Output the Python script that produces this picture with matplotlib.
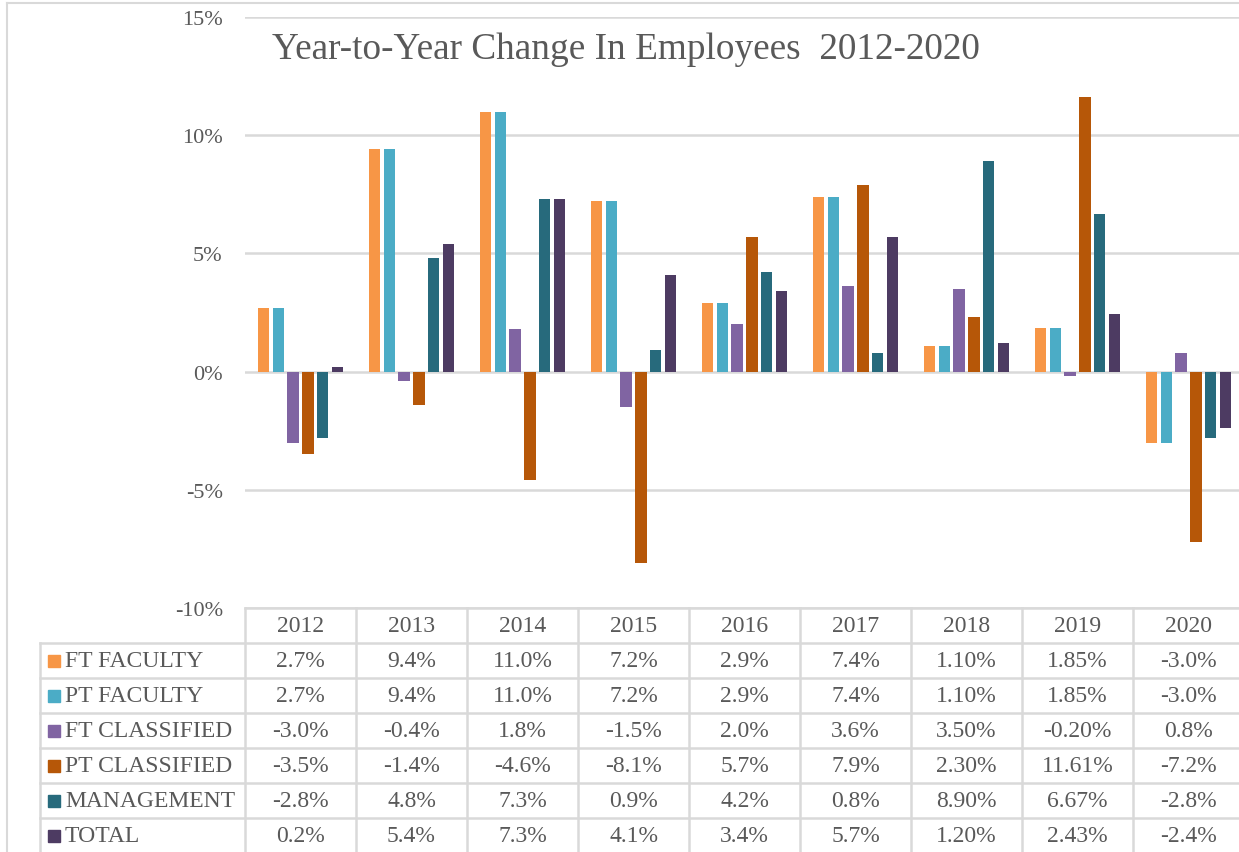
import matplotlib
matplotlib.use("Agg")
import matplotlib.pyplot as plt
from matplotlib.lines import Line2D
from matplotlib.patches import Rectangle
import numpy as np

plt.rcParams['font.family'] = ['Liberation Serif', 'DejaVu Serif']

years = ["2012", "2013", "2014", "2015", "2016", "2017", "2018", "2019", "2020"]
series_names = ["FT FACULTY", "PT FACULTY", "FT CLASSIFIED", "PT CLASSIFIED", "MANAGEMENT", "TOTAL"]
colors = ["#F79646", "#4BACC6", "#8064A2", "#B65708", "#276A7C", "#4D3B62"]

ft_faculty = [2.7, 9.4, 11.0, 7.2, 2.9, 7.4, 1.10, 1.85, -3.0]
pt_faculty = [2.7, 9.4, 11.0, 7.2, 2.9, 7.4, 1.10, 1.85, -3.0]
ft_classified = [-3.0, -0.4, 1.8, -1.5, 2.0, 3.6, 3.50, -0.20, 0.8]
pt_classified = [-3.5, -1.4, -4.6, -8.1, 5.7, 7.9, 2.30, 11.61, -7.2]
management = [-2.8, 4.8, 7.3, 0.9, 4.2, 0.8, 8.90, 6.67, -2.8]
total = [0.2, 5.4, 7.3, 4.1, 3.4, 5.7, 1.20, 2.43, -2.4]

# table text as printed (decimals differ per year)
table_text = [
    ["2.7%", "9.4%", "11.0%", "7.2%", "2.9%", "7.4%", "1.10%", "1.85%", "-3.0%"],
    ["2.7%", "9.4%", "11.0%", "7.2%", "2.9%", "7.4%", "1.10%", "1.85%", "-3.0%"],
    ["-3.0%", "-0.4%", "1.8%", "-1.5%", "2.0%", "3.6%", "3.50%", "-0.20%", "0.8%"],
    ["-3.5%", "-1.4%", "-4.6%", "-8.1%", "5.7%", "7.9%", "2.30%", "11.61%", "-7.2%"],
    ["-2.8%", "4.8%", "7.3%", "0.9%", "4.2%", "0.8%", "8.90%", "6.67%", "-2.8%"],
    ["0.2%", "5.4%", "7.3%", "4.1%", "3.4%", "5.7%", "1.20%", "2.43%", "-2.4%"],
]
yticks = [-10, -5, 0, 5, 10, 15]

W, H = 1239, 853
GRID = "#D9D9D9"
TXT = "#595959"
COL = 111  # px per category

fig = plt.figure(figsize=(W / 100, H / 100), dpi=100)

def px_axes(left, top, right, bottom):
    return fig.add_axes([left / W, 1 - bottom / H, (right - left) / W, (bottom - top) / H])

# chart area border
fig.add_artist(Line2D([7 / W, 7 / W], [0, 1 - 4 / H], color=GRID, lw=1.5, transform=fig.transFigure))
fig.add_artist(Line2D([7 / W, 1], [1 - 4 / H, 1 - 4 / H], color=GRID, lw=1.5, transform=fig.transFigure))

# ---- bars ----
ax = px_axes(245, 18, 245 + 9 * COL, 609)
x = np.arange(len(years))
step = 0.1324
width = 0.102
all_series = [ft_faculty, pt_faculty, ft_classified, pt_classified, management, total]
for i, (vals, c) in enumerate(zip(all_series, colors)):
    ax.bar(x + (i - 2.5) * step, vals, width, color=c, zorder=3)

ax.set_xlim(-0.5, len(years) - 0.5)
ax.set_ylim(-10, 15)
ax.set_yticks(yticks)
ax.set_yticklabels([f"{v}%" for v in yticks], fontsize=16, color=TXT)
ax.tick_params(axis='y', length=0, pad=16)
ax.set_xticks([])
for s in ax.spines.values():
    s.set_visible(False)
ax.grid(axis='y', color=GRID, lw=1.8, zorder=0)

fig.text(272 / W, 1 - 50 / H, "Year-to-Year Change In Employees  2012-2020",
         fontsize=26.8, color=TXT, ha='left', va='center')

# ---- data table ----
tx = px_axes(40, 609, 245 + 9 * COL, 609 + 7 * 35)
left_edge = -0.5 - 205 / COL
tx.set_xlim(left_edge, len(years) - 0.5)
tx.set_ylim(7, 0)
tx.axis('off')
lw = 1.8
# horizontal lines
tx.plot([-0.5, len(years) - 0.5], [0, 0], color=GRID, lw=lw, clip_on=False)
for r in range(1, 7):
    tx.plot([left_edge, len(years) - 0.5], [r, r], color=GRID, lw=lw, clip_on=False)
# vertical lines
tx.plot([left_edge, left_edge], [1, 7], color=GRID, lw=lw, clip_on=False)
for c in range(len(years) + 1):
    tx.plot([c - 0.5, c - 0.5], [0, 7], color=GRID, lw=lw, clip_on=False)

for j, yr in enumerate(years):
    tx.text(j, 0.5, yr, ha='center', va='center', fontsize=17, color=TXT)
for r, (name, c) in enumerate(zip(series_names, colors)):
    yc = r + 1.5
    tx.add_patch(Rectangle((left_edge + 8 / COL, yc - 6 / 35), 12 / COL, 12 / 35,
                           color=c, clip_on=False))
    tx.text(left_edge + 25 / COL, yc, name, ha='left', va='center', fontsize=17, color=TXT)
    for j in range(len(years)):
        tx.text(j, yc, table_text[r][j], ha='center', va='center', fontsize=17, color=TXT)

fig.savefig("out.png", dpi=100)
